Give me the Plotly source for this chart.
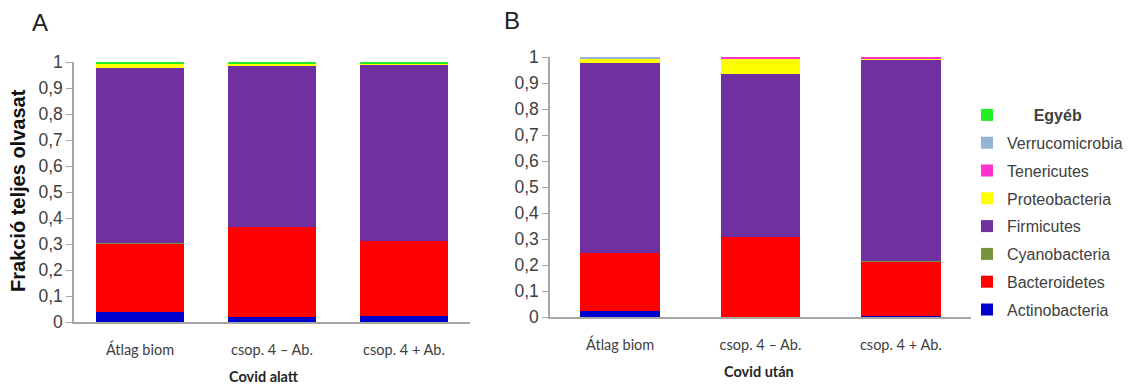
import plotly.graph_objects as go
from plotly.subplots import make_subplots

categories = ["Átlag biom", "csop. 4 – Ab.", "csop. 4 + Ab."]
phyla = ["Actinobacteria", "Bacteroidetes", "Cyanobacteria", "Firmicutes",
         "Proteobacteria", "Tenericutes", "Verrucomicrobia", "Egyéb"]
colors = ["#0000CC", "#FF0000", "#77933C", "#7030A0",
          "#FFFF00", "#FF33CC", "#95B3D7", "#22EE22"]

# Panel A – Covid alatt
actino_a = [0.038, 0.020, 0.024]
bactero_a = [0.263, 0.345, 0.289]
cyano_a = [0.004, 0.0, 0.0]
firmi_a = [0.673, 0.622, 0.678]
proteo_a = [0.014, 0.005, 0.002]
teneri_a = [0.0, 0.0, 0.0]
verruco_a = [0.0, 0.0, 0.0]
egyeb_a = [0.008, 0.008, 0.007]

# Panel B – Covid után
actino_b = [0.024, 0.001, 0.005]
bactero_b = [0.224, 0.307, 0.210]
cyano_b = [0.0, 0.001, 0.002]
firmi_b = [0.730, 0.624, 0.773]
proteo_b = [0.018, 0.060, 0.004]
teneri_b = [0.0, 0.007, 0.006]
verruco_b = [0.004, 0.000, 0.000]
egyeb_b = [0.0, 0.0, 0.0]

y_ticks = [0, 0.1, 0.2, 0.3, 0.4, 0.5, 0.6, 0.7, 0.8, 0.9, 1]
y_ticktext = ["0", "0,1", "0,2", "0,3", "0,4", "0,5", "0,6", "0,7", "0,8", "0,9", "1"]

series_a = [actino_a, bactero_a, cyano_a, firmi_a, proteo_a, teneri_a, verruco_a, egyeb_a]
series_b = [actino_b, bactero_b, cyano_b, firmi_b, proteo_b, teneri_b, verruco_b, egyeb_b]

# the page body has an 8px margin, so the figure is offset by 8px
OFF = 8
W, H = 1131 - 2 * OFF, 385 - OFF


def px(x):
    return (x - OFF) / W


def py(y):
    return 1 - (y - OFF) / H


fig = make_subplots(rows=1, cols=2)

n = len(phyla)
for i, name in enumerate(phyla):
    fig.add_trace(go.Bar(x=categories, y=series_a[i], name=name, marker_color=colors[i],
                         marker_line_width=0, width=0.667, showlegend=False,
                         legendgroup=name), row=1, col=1)
for i, name in enumerate(phyla):
    label = name
    if name == "Egyéb":
        label = "\u00a0\u00a0\u00a0\u00a0\u00a0\u00a0<b>Egyéb</b>"
    fig.add_trace(go.Bar(x=categories, y=series_b[i], name=label, marker_color=colors[i],
                         marker_line_width=0, width=0.57, showlegend=True,
                         legendgroup=name, legendrank=n - i), row=1, col=2)

axis_col = "#A6A6A6"
tick_font = dict(family="Liberation Sans, Arial", size=17.5, color="#404040")
cat_font = dict(family="Lato, Open Sans", size=14.5, color="#404040")

common_x = dict(range=[-0.5, 2.5], showline=True, linecolor=axis_col, linewidth=1.5,
                ticks="", tickfont=cat_font, ticklabelstandoff=14, showgrid=False,
                automargin=False, fixedrange=True)
common_y = dict(range=[0, 1], tickvals=y_ticks, ticktext=y_ticktext, showline=True,
                linecolor=axis_col, linewidth=1.5, ticks="outside", ticklen=6,
                tickcolor=axis_col, tickfont=tick_font, showgrid=False, zeroline=False,
                automargin=False, fixedrange=True)

fig.update_layout(
    width=W, height=H, barmode="stack", plot_bgcolor="white", paper_bgcolor="white",
    margin=dict(l=0, r=0, t=0, b=0, autoexpand=False),
    showlegend=True,
    legend=dict(x=px(967), y=py(98), xanchor="left", yanchor="top",
                traceorder="grouped", tracegroupgap=4,
                font=dict(family="Liberation Sans, Arial", size=16, color="#404040"),
                bgcolor="rgba(0,0,0,0)"),
    xaxis=dict(domain=[px(74), px(470)], **common_x),
    xaxis2=dict(domain=[px(550), px(971)], **common_x),
    yaxis=dict(domain=[py(322), py(62)], **common_y),
    yaxis2=dict(domain=[py(317), py(57)], **common_y),
)

ann = [
    dict(text="A", x=px(40), y=py(23), font=dict(family="Liberation Sans, Arial", size=24, color="#222")),
    dict(text="B", x=px(512), y=py(21), font=dict(family="Liberation Sans, Arial", size=24, color="#222")),
    dict(text="<b>Covid alatt</b>", x=px(264), y=py(376), font=dict(family="Lato, Open Sans", size=14.5, color="#262626")),
    dict(text="<b>Covid után</b>", x=px(759), y=py(371), font=dict(family="Lato, Open Sans", size=14.5, color="#262626")),
    dict(text="<b>Frakció teljes olvasat</b>", x=px(18), y=py(191), textangle=-90,
         font=dict(family="Liberation Sans, Arial", size=20, color="#111")),
]
for a in ann:
    fig.add_annotation(xref="paper", yref="paper", showarrow=False, xanchor="center",
                       yanchor="middle", **a)

fig.write_html("out.html")
